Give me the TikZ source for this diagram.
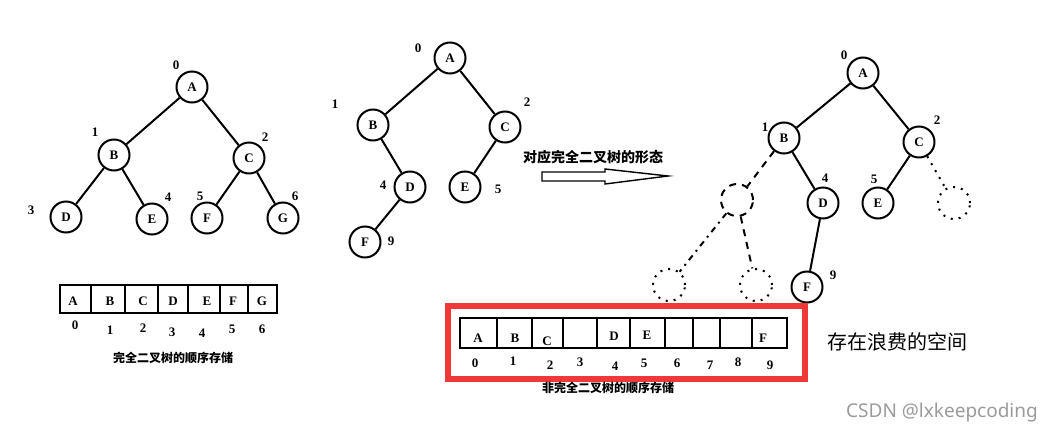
\documentclass[tikz,border=0pt]{standalone}
\usepackage{fontspec}
\setmainfont{Liberation Serif}
\newfontfamily\cjk{Noto Sans CJK SC}
\newfontfamily\marksans{Noto Sans}
\definecolor{boxred}{RGB}{240,56,56}
\definecolor{markgray}{RGB}{155,155,155}

\begin{document}
\begin{tikzpicture}[x=1pt,y=-1pt,line width=2pt,every node/.style={inner sep=0pt},
						vertex/.style={circle,draw,minimum size=31pt,font=\bfseries\fontsize{13}{13}\selectfont},
						ghost/.style={circle,draw,minimum size=32pt},
						longdash/.style={dash pattern=on 7pt off 6pt},
						dots/.style={dash pattern=on 2pt off 6pt},
						dashdots/.style={dash pattern=on 6pt off 5pt on 2pt off 5pt},
						idx/.style={font=\bfseries\fontsize{13}{13}\selectfont},
						caption/.style={font=\cjk\bfseries\fontsize{12}{12}\selectfont}
						]
						\useasboundingbox (0,0) rectangle (1052,434);
						% complete tree
						\node[vertex](la) at (192,87){A};
						\node[vertex](lb) at (114,155){B};
						\node[vertex](lc) at (249,158){C};
						\node[vertex](ld) at (66,217){D};
						\node[vertex](le) at (152,219){E};
						\node[vertex](lf) at (207,218){F};
						\node[vertex](lg) at (283,218){G};
						\draw (la)--(lb) (la)--(lc) (lb)--(ld) (lb)--(le) (lc)--(lf) (lc)--(lg);
						\node[idx](lna) at (176,65){0};
						\node[idx](lnb) at (95,132){1};
						\node[idx](lnc) at (265,137){2};
						\node[idx](lnd) at (31,210){3};
						\node[idx](lne) at (168,197){4};
						\node[idx](lnf) at (200,196){5};
						\node[idx](lng) at (295,196){6};
						% complete array
						\draw (60,285) rectangle (277,313);
						\foreach \x in {91,125,158,188,220,248} \draw (\x,285)--(\x,313);
						\foreach \x/\t in {73/A,110/B,143/C,173/D,207/E,233/F,262/G}
							\node[idx](lcell\t) at (\x,301){\t};
						\foreach \x/\y/\t in {75/325/0,110/330/1,143/328/2,172/332/3,202/333/4,232/329/5,262/329/6}
							\node[idx](lidx\t) at (\x,\y){\t};
						\node[caption](lcap) at (173,358){完全二叉树的顺序存储};

						% incomplete tree
						\node[vertex](ma) at (450,58){A};
						\node[vertex](mb) at (373,125){B};
						\node[vertex](mc) at (505,127){C};
						\node[vertex](md) at (410,187){D};
						\node[vertex](me) at (465,187){E};
						\node[vertex](mf) at (365,242){F};
						\draw (ma)--(mb) (ma)--(mc) (mb)--(md) (mc)--(me) (md)--(mf);
						\node[idx](mna) at (418,48){0};
						\node[idx](mnb) at (335,104){1};
						\node[idx](mnc) at (527,102){2};
						\node[idx](mnd) at (383,185){4};
						\node[idx](mne) at (498,189){5};
						\node[idx](mnf) at (391,241){9};

						% arrow
						\node[font=\cjk\bfseries\fontsize{14}{14}\selectfont](shape) at (593,157){对应完全二叉树的形态};
						\draw[line width=1.4pt] (542,172)--(605,172)--(605,169)--(668,176)--(605,184)--(605,181)--(542,181)--cycle;

						% tree with empty places
						\node[vertex](ra) at (863,73){A};
						\node[vertex](rb) at (784,138){B};
						\node[vertex](rc) at (919,142){C};
						\node[vertex](rd) at (823,203){D};
						\node[vertex](re) at (878,203){E};
						\node[vertex](rf) at (807,287){F};
						\draw (ra)--(rb) (ra)--(rc) (rb)--(rd) (rc)--(re) (rd)--(rf);
						\node[ghost,longdash](rg) at (737,200){};
						\node[ghost,dots](rh) at (954,203){};
						\node[ghost,dots](ri) at (669,285){};
						\node[ghost,dots](rj) at (756,285){};
						\draw[longdash] (rb)--(rg);
						\draw[dots] (rc)--(rh);
						\draw[dashdots] (rg)--(ri);
						\draw[longdash] (rg)--(rj);
						\node[idx](rna) at (844,55){0};
						\node[idx](rnb) at (765,127){1};
						\node[idx](rnc) at (937,120){2};
						\node[idx](rnd) at (825,178){4};
						\node[idx](rne) at (874,179){5};
						\node[idx](rnf) at (833,275){9};

						% incomplete array
						\draw[boxred,line width=6pt] (448,306) rectangle (805,379);
						\draw (460,318) rectangle (787,348);
						\foreach \x in {497,532,563,597,630,665,693,720,752} \draw (\x,318)--(\x,348);
						\foreach \x/\y/\t in {478/338/A,515/338/B,547/341/C,614/336/D,647/335/E,763/338/F}
							\node[idx](rcell\t) at (\x,\y){\t};
						\foreach \x/\y/\t in {475/363/0,513/361/1,550/365/2,580/362/3,615/366/4,644/363/5,677/363/6,710/365/7,738/362/8,770/365/9}
							\node[idx](ridx\t) at (\x,\y){\t};
						\node[caption](rcap) at (608,388){非完全二叉树的顺序存储};
						\node[font=\cjk\fontsize{20}{20}\selectfont](waste) at (897,342){存在浪费的空间};
						\node[font=\marksans\fontsize{19}{19}\selectfont,text=markgray](mark) at (942,413){CSDN @lxkeepcoding};
						\end{tikzpicture}
\end{document}
